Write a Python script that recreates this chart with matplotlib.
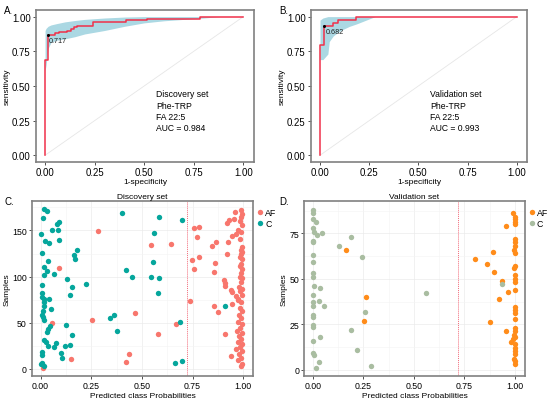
import numpy as np
import matplotlib
matplotlib.use("Agg")
import matplotlib.pyplot as plt
from matplotlib.ticker import MultipleLocator

plt.rcParams["font.family"] = ["Liberation Sans", "DejaVu Sans"]

# ---- ROC curves (1-specificity, sensitivity step levels) ----
roc_a_fpr = [0, 0.015, 0.05, 0.07, 0.109, 0.131, 0.148, 0.16, 0.244, 0.407, 0.513, 0.782, 1.0]
roc_a_tpr = [0.687, 0.867, 0.88, 0.889, 0.898, 0.91, 0.923, 0.935, 0.959, 0.973, 0.985, 1.0, 1.0]
roc_a_band_x = [0, 0.005, 0.015, 0.03, 0.06, 0.1, 0.15, 0.2, 0.3, 0.4, 0.5, 0.6, 0.7, 0.8, 0.88]
roc_a_band_lo = [0.61, 0.65, 0.77, 0.815, 0.83, 0.84, 0.855, 0.875, 0.9, 0.93, 0.955, 0.97, 0.98, 0.99, 1.0]
roc_a_band_hi = [0.9, 0.915, 0.93, 0.94, 0.95, 0.962, 0.972, 0.98, 0.99, 0.997, 1.0, 1.0, 1.0, 1.0, 1.0]
roc_a_thr = (0.015, 0.867, "0.717")
roc_a_text = "Discovery set\nPhe-TRP\nFA 22:5\nAUC = 0.984"

roc_b_fpr = [0, 0.0227, 0.068, 0.091, 0.182, 1.0]
roc_b_tpr = [0.795, 0.932, 0.955, 0.977, 1.0, 1.0]
roc_b_band_x = [0, 0.015, 0.04, 0.047, 0.067, 0.09, 0.12, 0.15, 0.185, 0.235, 0.28]
roc_b_band_lo = [0.69, 0.69, 0.73, 0.82, 0.86, 0.885, 0.91, 0.93, 0.947, 0.975, 1.0]
roc_b_band_hi = [0.975, 0.99, 1.0, 1.0, 1.0, 1.0, 1.0, 1.0, 1.0, 1.0, 1.0]
roc_b_thr = (0.0227, 0.932, "0.682")
roc_b_text = "Validation set\nPhe-TRP\nFA 22:5\nAUC = 0.993"

# ---- Discovery set predicted probabilities ----
disc_c_prob = [0.018, 0.03, 0.013, 0.092, 0.082, 0.058, 0.084, 0.003, 0.02, 0.043, 0.092, 0.178,
               0.164, 0.169, 0.005, 0.038, 0.018, 0.03, 0.015, 0.066, 0.13, 0.224, 0.153, 0.007,
               0.143, 0.008, 0.005, 0.015, 0.043, 0.018, 0.016, 0.049, 0.013, 0.005, 0.011, 0.018,
               0.046, 0.038, 0.03, 0.123, 0.153, 0.018, 0.025, 0.035, 0.074, 0.067, 0.12, 0.145,
               0.1, 0.107, 0.005, 0.007, 0.008, 0.015, 0.003,
               0.403, 0.586, 0.696, 0.561, 0.553, 0.42, 0.543, 0.586, 0.451, 0.578, 0.342, 0.363,
               0.375, 0.686, 0.664, 0.699, 0.91]
disc_c_sample = [173, 171, 164, 159, 157, 150, 151, 146, 139, 136, 140, 129,
                 123, 119, 126, 117, 110, 106, 102, 103, 97, 92, 89, 91,
                 80, 82, 78, 76, 76, 72, 68, 65, 63, 58, 56, 53,
                 46, 43, 40, 47, 36, 31, 29, 25, 28, 24, 25, 26,
                 17, 12, 18, 15, 6, 3, 5,
                 169, 165, 161, 147, 116, 107, 100, 98, 99, 82, 55, 58,
                 41, 51, 6, 8, 68]
disc_af_prob = [0.281, 0.092, 0.056, 0.252, 0.151, 0.012, 0.544, 0.643, 0.467, 0.436, 0.421, 0.577,
                0.668, 0.745, 0.737, 0.755, 0.781, 0.771, 0.781, 0.757, 0.847, 0.865, 0.862, 0.857,
                0.905, 0.91, 0.908, 0.918, 0.921, 0.928, 0.926, 0.943, 0.959, 0.956, 0.857, 0.874,
                0.91, 0.939, 0.943, 0.938, 0.943, 0.964, 0.972,
                0.99, 0.995, 0.99, 0.985, 0.995, 0.975, 0.99, 0.965, 0.985, 0.995, 0.99, 0.995,
                0.99, 0.985, 0.995, 0.99, 0.985, 0.995, 0.99, 0.985, 0.995, 0.99, 0.98, 0.995,
                0.985, 0.995, 0.975, 0.99, 0.985, 0.995, 0.98, 0.99, 0.975, 0.995, 0.985, 0.97,
                0.995, 0.98, 0.99, 0.975, 0.995, 0.985, 0.965, 0.995, 0.98, 0.99, 0.975, 0.995, 0.99]
disc_af_sample = [149, 109, 49.5, 53, 10, 1, 134, 135, 60, 16, 7, 37.5,
                  48, 118, 73, 153, 154, 143, 121, 108, 133, 137, 115, 105,
                  96.5, 93, 90, 124, 158, 161, 138, 144, 170, 162, 68, 61,
                  38, 14, 70, 85.5, 83, 79, 76,
                  172, 168, 165, 160, 156, 151, 148, 146, 141, 132, 129, 127,
                  125, 121, 119, 114, 111, 108, 104, 100, 98, 94, 89, 87,
                  84, 80, 75, 72, 66, 63, 58, 55, 51, 48, 44, 41,
                  39, 35, 32, 29, 27, 23, 21, 19, 16, 12, 9, 5, 3]

# ---- Validation set predicted probabilities ----
val_c_prob = [0, 0, 0, 0.018, 0, 0.008, 0.02, 0.044, 0.003, 0, 0.128, 0.189, 0.245, 0, 0,
              0, 0.002, 0.007, 0.034, 0, 0.03, 0, 0, 0.056, 0, 0, 0, 0.003, 0.189, 0.036,
              0, 0, 0.005, 0.028, 0.016, 0.29, 0.22, 0.26, 0.562, 0.936]
val_c_sample = [88, 86, 83, 81, 78, 76, 74, 75, 71, 70, 68, 73, 62, 63, 59,
                53, 51, 46, 45, 41, 38, 37, 35, 35, 30, 29, 24.5, 23.5, 22, 18,
                16, 9, 8, 4, 1, 2, 11, 32, 42, 47]
val_af_prob = [0.166, 0.263, 0.254, 0.956, 0.89, 0.8, 0.86, 0.898, 0.936, 0.92, 0.967, 0.878, 0.954,
               0.99, 1.0, 1.0, 1.0, 1.0, 1.0, 1.0, 1.0, 0.995, 1.0, 1.0, 0.995, 1.0, 1.0, 1.0,
               1.0, 1.0, 1.0, 1.0, 1.0, 1.0, 1.0, 0.995, 1.0, 0.99, 0.98, 1.0, 1.0, 1.0, 1.0,
               0.995, 1.0, 1.0]
val_af_sample = [66, 40, 27, 79, 65, 61, 58, 54, 49, 39, 43, 26, 21,
                 86, 84, 83, 81, 80, 72, 70, 68, 66, 64, 57, 56, 52, 50, 48,
                 44, 34.5, 33, 31, 28, 23, 21, 19, 18, 17, 15, 14, 12, 10, 8.5,
                 6, 4.5, 3]

THRESHOLD = 0.72

RED = "#F0304A"
BAND = "#ABD8E3"
BORDER = "#808080"
FS_LAB = 6.0


def style_axes(ax, tick_fs):
    for sp in ax.spines.values():
        sp.set_color(BORDER)
        sp.set_linewidth(1.2)
    ax.tick_params(labelsize=tick_fs, length=2.2, width=0.6, color="#333333", pad=1.5)


def roc_panel(ax, fpr, tpr, bx, blo, bhi, thr, text):
    ax.fill_between(bx, blo, bhi, color=BAND, lw=0, zorder=1)
    ax.plot([0, 1], [0, 1], color="#E6E6E6", lw=0.6, zorder=0)
    ax.step([0] + fpr, [0] + tpr, where="post", color=RED, lw=1.1, zorder=3)
    ax.plot(thr[0], thr[1], "o", color="black", ms=1.2, zorder=4)
    ax.text(thr[0] + 0.005, thr[1] - 0.015, thr[2], fontsize=5.2, va="top", ha="left", color="#222222")
    ax.text(0.56, 0.475, text, fontsize=6.2, va="top", ha="left", linespacing=1.3)
    ax.set_xlim(-0.047, 1.054)
    ax.set_ylim(-0.05, 1.048)
    ax.set_xticks([0, 0.25, 0.5, 0.75, 1.0])
    ax.set_yticks([0, 0.25, 0.5, 0.75, 1.0])
    ax.set_xticklabels(["0.00", "0.25", "0.50", "0.75", "1.00"])
    ax.set_yticklabels(["0.00", "0.25", "0.50", "0.75", "1.00"])
    ax.set_xlabel("1-specificity", fontsize=FS_LAB, labelpad=0.5)
    ax.set_ylabel("sensitivity", fontsize=FS_LAB, labelpad=1)
    style_axes(ax, 6.9)


def prob_panel(ax, af_x, af_y, c_x, c_y, af_col, c_col, title, ylim, ystep):
    ax.xaxis.set_minor_locator(MultipleLocator(0.125))
    ax.yaxis.set_minor_locator(MultipleLocator(ystep / 2))
    ax.grid(which="major", color="#EBEBEB", lw=0.5)
    ax.grid(which="minor", color="#F4F4F4", lw=0.4)
    ax.set_axisbelow(True)
    ax.scatter(af_x, af_y, s=15, color=af_col, lw=0, label="AF", zorder=3)
    ax.scatter(c_x, c_y, s=15, color=c_col, lw=0, label="C", zorder=3)
    ax.axvline(THRESHOLD, color="#F26B7A", lw=0.7, ls=(0, (1, 1)), zorder=2)
    ax.set_xlim(-0.043, 1.048)
    ax.set_ylim(*ylim)
    ax.set_xticks([0, 0.25, 0.5, 0.75, 1.0])
    ax.set_xticklabels(["0.00", "0.25", "0.50", "0.75", "1.00"])
    ax.yaxis.set_major_locator(MultipleLocator(ystep))
    ax.set_xlabel("Predicted class Probabilities", fontsize=FS_LAB, labelpad=1)
    ax.set_ylabel("Samples", fontsize=FS_LAB, labelpad=1)
    ax.set_title(title, fontsize=FS_LAB, pad=2)
    style_axes(ax, 6.3)
    ax.tick_params(which="minor", length=0)
    ax.legend(loc="upper left", bbox_to_anchor=(1.0, 0.98), frameon=False, fontsize=6.3,
              handletextpad=0.15, borderaxespad=0.15, borderpad=0.2, labelspacing=0.25,
              handlelength=0.9)


fig = plt.figure(figsize=(5.5, 4.06), dpi=100)
ax_a = fig.add_axes([0.065, 0.598, 0.397, 0.375])
ax_b = fig.add_axes([0.565, 0.598, 0.394, 0.375])
ax_c = fig.add_axes([0.058, 0.0714, 0.402, 0.431])
ax_d = fig.add_axes([0.553, 0.0714, 0.401, 0.431])

roc_panel(ax_a, roc_a_fpr, roc_a_tpr, roc_a_band_x, roc_a_band_lo, roc_a_band_hi, roc_a_thr, roc_a_text)
roc_panel(ax_b, roc_b_fpr, roc_b_tpr, roc_b_band_x, roc_b_band_lo, roc_b_band_hi, roc_b_thr, roc_b_text)
prob_panel(ax_c, disc_af_prob, disc_af_sample, disc_c_prob, disc_c_sample,
           "#F8766D", "#05A69C", "Discovery set", (-8, 182), 50)
prob_panel(ax_d, val_af_prob, val_af_sample, val_c_prob, val_c_sample,
           "#FF8C1A", "#A9BDA1", "Validation set", (-3.5, 92.8), 25)

for lab, x, y in [("A.", 0.008, 0.985), ("B.", 0.508, 0.985), ("C.", 0.008, 0.515), ("D.", 0.508, 0.515)]:
    fig.text(x, y, lab, fontsize=7, va="top", ha="left")

fig.savefig("out.png", dpi=100)
